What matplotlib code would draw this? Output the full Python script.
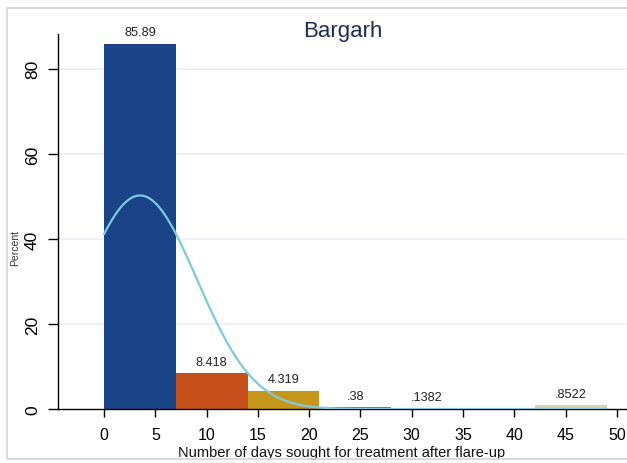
import numpy as np
import matplotlib
matplotlib.use("Agg")
import matplotlib.pyplot as plt
from matplotlib.patches import Rectangle

plt.rcParams['font.family'] = ['Liberation Sans', 'DejaVu Sans']

# Histogram bins (days) and percentages
bin_left = [0, 7, 14, 21, 28, 35, 42]
bin_width = 7
percent = [85.89, 8.418, 4.319, 0.38, 0.1382, 0.0, 0.8522]
bar_labels = ["85.89", "8.418", "4.319", ".38", ".1382", "", ".8522"]
bar_colors = ["#1a4388", "#c44f1b", "#c6961b", "#4b8a3b", "#8fc3da", "#8fc3da", "#ddd2a0"]

# Normal overlay parameters (days)
norm_mean = 3.5
norm_sd = 5.56

x_ticks = [0, 5, 10, 15, 20, 25, 30, 35, 40, 45, 50]
y_ticks = [0, 20, 40, 60, 80]

fig = plt.figure(figsize=(6.27, 4.64), dpi=100)
fig.patch.set_facecolor("white")
ax = fig.add_axes([58 / 627, 54 / 464, (626 - 58) / 627, (410 - 35) / 464])

# outer graph region frame
fig.add_artist(Rectangle((7 / 627, 4 / 464), 1.0, 451 / 464, transform=fig.transFigure,
                         fill=False, edgecolor="#d4d4d4", linewidth=1.2, clip_on=False))

for yt in y_ticks[1:]:
    ax.axhline(yt, color="#edf1f6", linewidth=1.4, zorder=0)

for left, h, lab, col in zip(bin_left, percent, bar_labels, bar_colors):
    if h > 0:
        ax.bar(left, h, width=bin_width, align="edge", color=col, linewidth=0, zorder=2)
    if lab:
        ax.text(left + bin_width / 2, h + 1.3, lab, ha="center", va="bottom",
                fontsize=9.2, color="#222222", zorder=4)

xs = np.linspace(0, 49, 400)
density = bin_width * 100 / (norm_sd * np.sqrt(2 * np.pi)) * np.exp(-0.5 * ((xs - norm_mean) / norm_sd) ** 2)
ax.plot(xs, density, color="#7ccae1", linewidth=1.6, zorder=3)

ax.set_xlim(-4.5, 50.9)
ax.set_ylim(0, 88.2)
ax.set_xticks(x_ticks)
ax.set_yticks(y_ticks)
ax.tick_params(axis="x", direction="out", length=6, width=1, labelsize=11.5, pad=7)
ax.tick_params(axis="y", direction="out", length=7, width=1, labelsize=12.5, pad=6)
for t in ax.get_yticklabels():
    t.set_rotation(90)
    t.set_va("center")

for s in ["top", "right"]:
    ax.spines[s].set_visible(False)
ax.spines["left"].set_linewidth(1)
ax.spines["bottom"].set_linewidth(1)

ax.set_xlabel("Number of days sought for treatment after flare-up", fontsize=10.5,
              labelpad=2, color="#111111")
fig.text(15 / 627, 1 - 248 / 464, "Percent", rotation=90, fontsize=7.5, ha="center",
         va="center", color="#333333")
fig.text(343 / 627, 1 - 32 / 464, "Bargarh", fontsize=16, color="#1f2d55",
         ha="center", va="center")

fig.savefig("out.png", dpi=100, facecolor="white")
